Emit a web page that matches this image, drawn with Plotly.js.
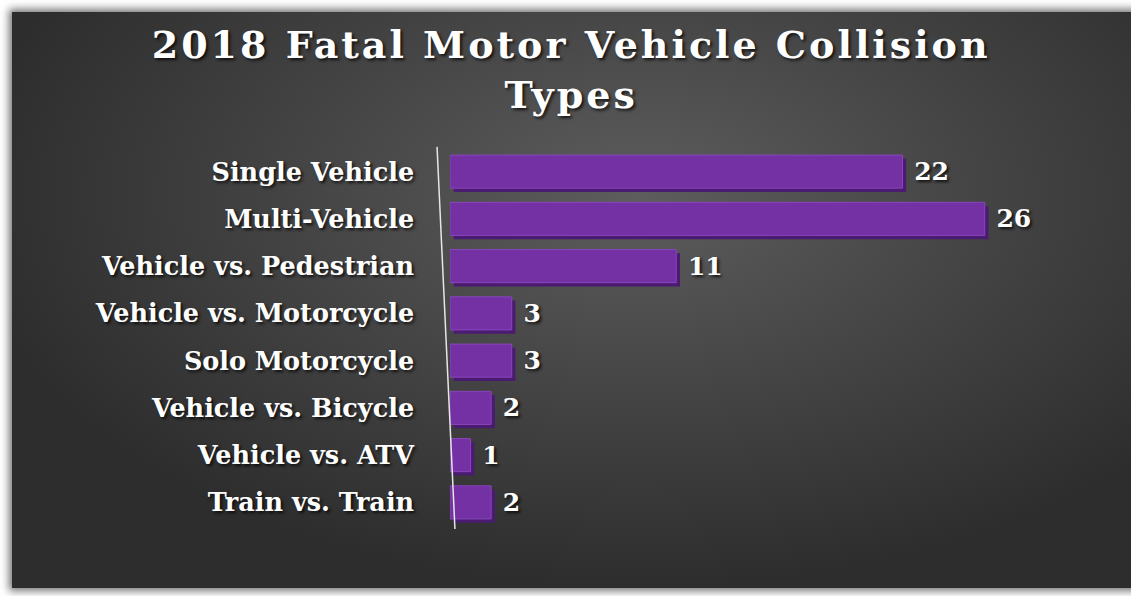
<!DOCTYPE html>
<html>
<head>
<meta charset="utf-8">
<script src="https://cdn.plot.ly/plotly-3.0.1.min.js"></script>
<style>
  html, body { margin: 0; padding: 0; background: #ffffff; overflow: hidden; }
  #wrap { position: relative; width: 1131px; height: 596px; }
  #bg {
    position: absolute; left: 12px; top: 12px; width: 1140px; height: 576px;
    background: radial-gradient(ellipse 70% 80% at 55% 32%, #5d5d5d 0%, #464646 40%, #2d2d2d 85%);
    box-shadow: 0 0 8px 3px rgba(0,0,0,0.55);
  }
  #chart { position: absolute; left: 0; top: 0; width: 1131px; height: 596px; }
  /* el titulo original va algo espaciado */
  #chart .gtitle { letter-spacing: 3px; }
</style>
</head>
<body>
<div id="wrap">
  <div id="bg"></div>
  <div id="chart"></div>
</div>
<script>
// categorias de arriba hacia abajo, como en la lamina original
const tipos = [
  "Single Vehicle ", "Multi-Vehicle ", "Vehicle vs. Pedestrian ", "Vehicle vs. Motorcycle ",
  "Solo Motorcycle ", "Vehicle vs. Bicycle ", "Vehicle vs. ATV ", "Train vs. Train "
];
const muertes = [22, 26, 11, 3, 3, 2, 1, 2];

const fuenteSerif = "Georgia, 'DejaVu Serif', serif";
const sombra = "2px 2px 3px rgba(0,0,0,0.75)";

// cara lateral oscura (efecto 3D): misma data en los ejes base, corridos un poco
const lado = {
  type: "bar", orientation: "h",
  y: tipos, x: muertes,
  marker: { color: "#4a1b70", line: { width: 0 } },
  hoverinfo: "none",
};
// cara frontal: en los ejes superpuestos, que se dibujan encima
const frente = {
  type: "bar", orientation: "h",
  y: tipos, x: muertes,
  xaxis: "x2", yaxis: "y2",
  text: muertes.map((v) => "\u00a0" + v),
  textposition: "outside",
  cliponaxis: false,
  textfont: { family: fuenteSerif, size: 25, color: "#ffffff", weight: "bold", shadow: sombra },
  marker: { color: "#7331a4", line: { color: "#8a45bd", width: 1 } },
  hoverinfo: "none",
};

Plotly.newPlot("chart", [lado, frente], {
  title: {
    text: "2018 Fatal Motor Vehicle Collision<br>Types",
    x: 0.505, xanchor: "center", y: 0.902, yanchor: "middle",
    font: { family: fuenteSerif, size: 38, color: "#ffffff", weight: "bold", shadow: sombra },
  },
  paper_bgcolor: "rgba(0,0,0,0)",
  plot_bgcolor: "rgba(0,0,0,0)",
  margin: { l: 450, r: 64, t: 148, b: 70 },
  bargap: 0.3,
  showlegend: false,
  xaxis: { range: [-0.18, 29.82], visible: false, fixedrange: true },
  yaxis: { range: [7.42, -0.58], visible: false, fixedrange: true },
  xaxis2: { overlaying: "x", range: [0, 30], visible: false, fixedrange: true },
  yaxis2: {
    overlaying: "y", range: [7.5, -0.5],
    showgrid: false, zeroline: false, showline: false,
    ticks: "", ticklabelstandoff: 26,
    tickfont: { family: fuenteSerif, size: 25.5, color: "#ffffff", weight: "bold", shadow: sombra },
    fixedrange: true,
  },
  shapes: [{
    type: "line", xref: "paper", yref: "paper",
    x0: -0.021, y0: 1.003, x1: 0.008, y1: -0.008,
    line: { color: "#e6e6e6", width: 1.5 },
  }],
}, { displayModeBar: false, staticPlot: true });
</script>
</body>
</html>
